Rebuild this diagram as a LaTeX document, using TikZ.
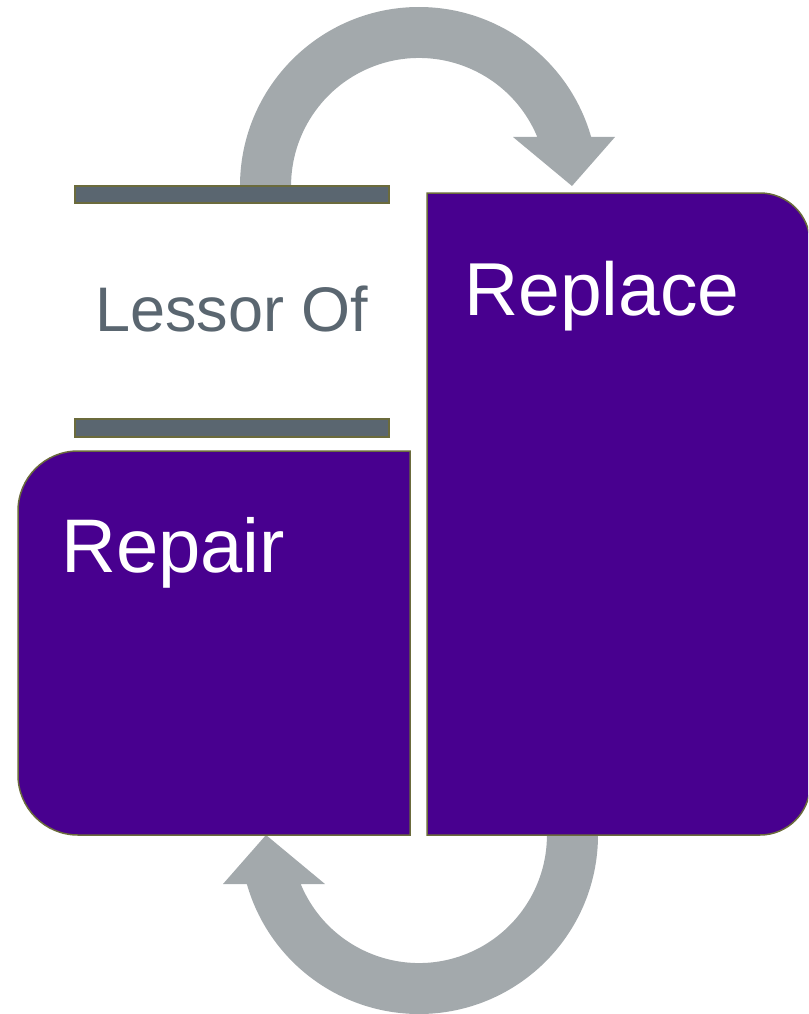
\documentclass[tikz,border=0pt]{standalone}
\usepackage{fontspec}
\setmainfont{Liberation Sans}
\definecolor{purp}{HTML}{48008F}
\definecolor{arrowgray}{HTML}{A3A9AC}
\definecolor{bargray}{HTML}{5A6670}
\definecolor{olivebd}{HTML}{6B6B3C}
\tikzset{
  boxshape/.style={fill=purp, draw=olivebd, line width=1.5pt},
  barshape/.style={fill=bargray, draw=olivebd, line width=1.5pt},
  cyclearrow/.style={fill=arrowgray},
  bigwhite/.style={text=white, inner sep=0pt, anchor=base west, font=\fontsize{76}{91}\selectfont},
  graylabel/.style={text=bargray, inner sep=0pt, anchor=base west, font=\fontsize{63}{76}\selectfont}
}
\begin{document}
\begin{tikzpicture}[x=1pt,y=-1pt]
\useasboundingbox (0,0) rectangle (808,1014);
\clip (0,0) rectangle (808,1014);
% top arrow
\fill[cyclearrow] (240,186) arc[start angle=180,end angle=344.1,radius=179]
  -- (615,137) -- (572,186) -- (513,137) -- (537.3,137)
  arc[start angle=337.5,end angle=180,radius=128] -- cycle;
% bottom arrow
\fill[cyclearrow] (598,835) arc[start angle=0,end angle=164.1,radius=179]
  -- (223,884) -- (266,835) -- (325,884) -- (300.7,884)
  arc[start angle=157.5,end angle=0,radius=128] -- cycle;
% bars
\draw[barshape] (75,186) rectangle (389,203);
\draw[barshape] (75,419) rectangle (389,437);
% Replace box
\draw[boxshape] (427,193) -- (760,193) arc[start angle=270,end angle=360,radius=50]
  -- (810,785) arc[start angle=0,end angle=90,radius=50] -- (427,835) -- cycle;
% Repair box
\draw[boxshape] (410,451) -- (78,451) arc[start angle=270,end angle=180,radius=60]
  -- (18,775) arc[start angle=180,end angle=90,radius=60] -- (410,835) -- cycle;
% texts
\node[graylabel] (lessor) at (95,331) {Lessor Of};
\node[bigwhite, font=\fontsize{75}{90}\selectfont] (replace) at (464,315) {Replace};
\node[bigwhite] (repair) at (61,572) {Repair};
\end{tikzpicture}
\end{document}
